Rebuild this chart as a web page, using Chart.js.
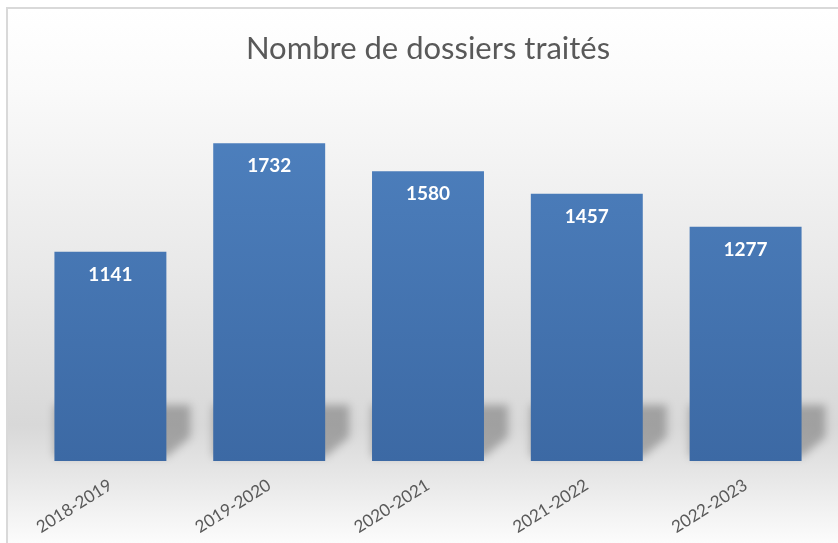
<!DOCTYPE html>
<html>
<head>
<meta charset="utf-8">
<script src="https://cdn.jsdelivr.net/npm/chart.js@4.4.1/dist/chart.umd.min.js"></script>
<style>
  html, body { margin: 0; padding: 0; background: #fff; }
  #wrap { width: 838px; height: 543px; position: relative; }
</style>
</head>
<body>
<div id="wrap"><canvas id="chart"></canvas></div>
<script>
const categories = ['2018-2019', '2019-2020', '2020-2021', '2021-2022', '2022-2023'];
const dossiers = [1141, 1732, 1580, 1457, 1277];
const titre = 'Nombre de dossiers traités';

// fond gris dégradé + cadre
const fond = {
    id: 'fond',
    beforeDraw(chart) {
        const ctx = chart.ctx;
        const w = chart.width, h = chart.height;
        ctx.save();
        ctx.fillStyle = '#ffffff';
        ctx.fillRect(0, 0, w, h);
        const g = ctx.createLinearGradient(0, 9, 0, h);
        g.addColorStop(0, '#ffffff');
        g.addColorStop(0.15, '#fafafa');
        g.addColorStop(0.5, '#e8e8e8');
        g.addColorStop(0.78, '#d8d8d8');
        g.addColorStop(0.87, '#e6e6e6');
        g.addColorStop(1, '#fcfcfc');
        ctx.fillStyle = g;
        ctx.fillRect(7, 9, w - 7, h - 9);
        ctx.strokeStyle = '#d9d9d9';
        ctx.lineWidth = 2;
        ctx.beginPath();
        ctx.moveTo(7, h);
        ctx.lineTo(7, 8);
        ctx.lineTo(w, 8);
        ctx.stroke();
        ctx.restore();
    }
};

// ombre portée sous les barres
const ombre = {
    id: 'ombre',
    beforeDatasetsDraw(chart) {
        const ctx = chart.ctx;
        ctx.save();
        ctx.filter = 'blur(4px)';
        ctx.fillStyle = 'rgba(0,0,0,0.26)';
        chart.getDatasetMeta(0).data.forEach(bar => {
            const x0 = bar.x - bar.width / 2, x1 = bar.x + bar.width / 2;
            const base = bar.base;
            ctx.beginPath();
            ctx.moveTo(x0, base - 4);
            ctx.lineTo(x1, base - 4);
            ctx.lineTo(x1 + 24, base - 24);
            ctx.lineTo(x1 + 24, base - 56);
            ctx.lineTo(x0, base - 56);
            ctx.closePath();
            ctx.fill();
        });
        ctx.restore();
    }
};

// valeurs dans les barres
const valeurs = {
    id: 'valeurs',
    afterDatasetsDraw(chart) {
        const ctx = chart.ctx;
        ctx.save();
        ctx.fillStyle = '#ffffff';
        ctx.font = 'bold 19px Lato';
        ctx.textAlign = 'center';
        ctx.textBaseline = 'middle';
        chart.getDatasetMeta(0).data.forEach((bar, i) => {
            ctx.fillText(dossiers[i], bar.x, bar.y + 23);
        });
        ctx.restore();
    }
};

const ctx = document.getElementById('chart');
const myChart = new Chart(ctx, {
    type: 'bar',
    data: {
        labels: categories,
        datasets: [{
            data: dossiers,
            backgroundColor: (c) => {
                const area = c.chart.chartArea;
                if (!area) return '#4a7ebd';
                const g = c.chart.ctx.createLinearGradient(0, area.top, 0, area.bottom);
                g.addColorStop(0, '#4f82c0');
                g.addColorStop(1, '#3c69a4');
                return g;
            },
            borderWidth: 0,
            barPercentage: 0.705,
            categoryPercentage: 1
        }]
    },
    options: {
        responsive: true,
        maintainAspectRatio: false,
        animation: false,
        layout: {
            padding: { top: 10, left: 31, right: 13, bottom: 0 }
        },
        scales: {
            y: {
                display: false,
                min: 0,
                max: 2000
            },
            x: {
                grid: { display: false },
                border: { display: false },
                ticks: {
                    color: '#595959',
                    font: { family: 'Lato', size: 17 },
                    minRotation: 32,
                    maxRotation: 32,
                    padding: 6
                },
                afterFit: (scale) => { scale.height = 82; }
            }
        },
        plugins: {
            legend: { display: false },
            tooltip: { enabled: false },
            title: {
                display: true,
                text: titre,
                color: '#595959',
                font: { family: 'Lato', size: 31, weight: 'normal' },
                padding: { top: 20, bottom: 27 }
            }
        }
    },
    plugins: [fond, ombre, valeurs]
});
</script>
</body>
</html>
